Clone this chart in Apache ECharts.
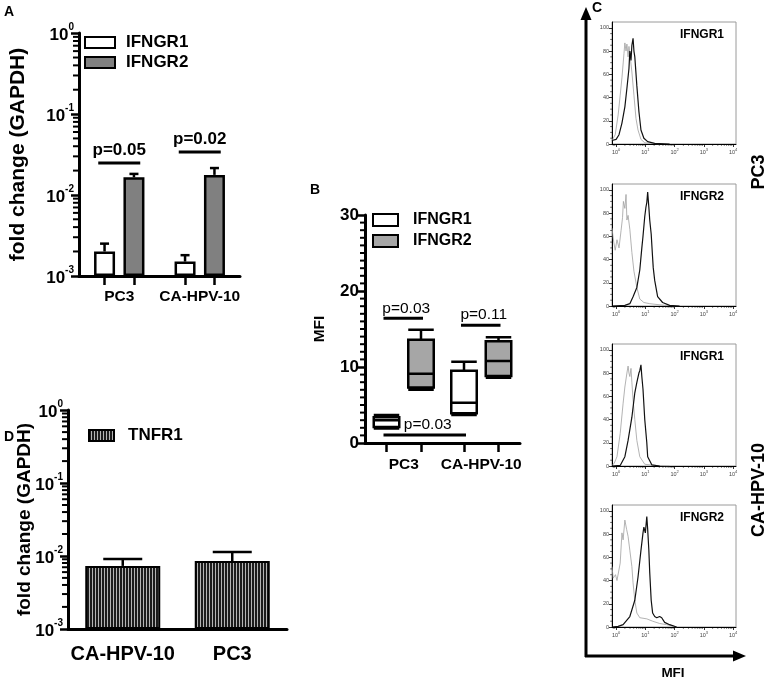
<!DOCTYPE html>
<html>
<head>
    <meta charset="UTF-8">
    <title>IFNGR1 / IFNGR2 / TNFR1</title>
    <style>
        body { margin: 0; background: #fff; }
        #main { width: 767px; height: 679px; }
    </style>
</head>
<body>
<div id="main"></div>
<script src="https://cdn.jsdelivr.net/npm/echarts@6.0.0/dist/echarts.min.js"></script>
<script>
    var FONT = '"Liberation Sans", Arial, sans-serif';

    // ---- A: qPCR, fold change (GAPDH), log scale
    var catsA = ['PC3', 'CA-HPV-10'];
    var ifngr1A = [0.0020, 0.0015];
    var ifngr1AErr = [0.0025, 0.0018];
    var ifngr2A = [0.0165, 0.0177];
    var ifngr2AErr = [0.0182, 0.0215];
    var pA = [[0, 0.0248, 'p=0.05'], [1, 0.034, 'p=0.02']];
    var logTicks = [0.001, 0.01, 0.1, 1];

    // ---- B: MFI box plots [min, q1, median, q3, max]
    var catsB = ['PC3', 'CA-HPV-10'];
    var ifngr1B = [[1.9, 2.1, 3.0, 3.4, 3.7], [3.7, 3.9, 5.3, 9.5, 10.7]];
    var ifngr2B = [[7.0, 7.3, 9.1, 13.6, 14.9], [8.6, 8.8, 10.8, 13.4, 13.9]];
    // [from category, from box, to category, to box, height, text]
    var pB = [[0, 0, 0, 1, 16.4, 'p=0.03'], [1, 0, 1, 1, 15.5, 'p=0.11'], [0, 0, 1, 0, 1.05, 'p=0.03']];

    // ---- D: TNFR1
    var catsD = ['CA-HPV-10', 'PC3'];
    var tnfr1D = [0.0073, 0.0085];
    var tnfr1DErr = [0.0091, 0.0113];

    // ---- C: flow histograms [log10 MFI, % of max]
    var c1Ctrl = [[-0.14, 3], [-0.03, 8], [0.07, 25], [0.14, 42], [0.2, 57], [0.27, 78], [0.3, 87], [0.34, 80], [0.37, 86], [0.41, 75], [0.44, 84], [0.47, 78], [0.54, 62], [0.61, 42], [0.68, 22], [0.75, 12], [0.85, 4], [0.98, 1], [1.5, 0]];
    var c1Stain = [[-0.14, 3], [0, 4], [0.1, 8], [0.2, 18], [0.3, 32], [0.37, 48], [0.44, 65], [0.47, 80], [0.51, 72], [0.54, 85], [0.58, 91], [0.61, 80], [0.64, 75], [0.71, 50], [0.78, 28], [0.85, 12], [0.95, 5], [1.08, 2], [1.32, 0.5], [1.83, 0]];
    var c2Ctrl = [[-0.14, 67], [-0.08, 55], [-0.03, 48], [0.03, 57], [0.1, 50], [0.17, 65], [0.22, 76], [0.25, 90], [0.3, 84], [0.34, 96], [0.37, 74], [0.41, 78], [0.47, 66], [0.54, 46], [0.61, 30], [0.71, 16], [0.81, 6], [0.95, 3], [1.15, 2], [1.5, 1], [2, 0]];
    var c2Stain = [[-0.14, 0], [0.3, 0.5], [0.47, 2], [0.58, 8], [0.71, 16], [0.81, 31], [0.88, 50], [0.92, 60], [0.98, 77], [1.02, 85], [1.05, 89], [1.08, 98], [1.12, 85], [1.15, 74], [1.2, 62], [1.24, 45], [1.27, 33], [1.32, 22], [1.42, 8], [1.59, 3], [1.83, 0.5], [2.17, 0]];
    var c3Ctrl = [[-0.14, 0.5], [-0.07, 2], [0.03, 8], [0.14, 28], [0.24, 54], [0.3, 68], [0.37, 80], [0.41, 86], [0.44, 80], [0.47, 77], [0.51, 84], [0.54, 72], [0.58, 57], [0.64, 40], [0.71, 22], [0.81, 8], [0.98, 1.5], [1.32, 0.5], [1.83, 0]];
    var c3Stain = [[-0.14, 0], [0.14, 0.5], [0.3, 8], [0.41, 22], [0.54, 42], [0.64, 63], [0.71, 72], [0.78, 80], [0.81, 82], [0.85, 87], [0.88, 77], [0.92, 66], [0.98, 40], [1.05, 20], [1.08, 8], [1.22, 1], [1.49, 0]];
    var c4Ctrl = [[-0.14, 52], [-0.1, 42], [-0.02, 45], [0.03, 40], [0.14, 55], [0.2, 81], [0.24, 75], [0.3, 92], [0.36, 84], [0.41, 78], [0.47, 66], [0.54, 52], [0.58, 38], [0.64, 23], [0.71, 12], [0.81, 8], [1.05, 7], [1.25, 5], [1.49, 3], [1.73, 2], [2.07, 0]];
    var c4Stain = [[-0.14, 0], [0.07, 0.5], [0.24, 2], [0.47, 9], [0.64, 23], [0.75, 43], [0.85, 66], [0.92, 81], [0.95, 86], [1.0, 81], [1.05, 95], [1.08, 84], [1.12, 66], [1.15, 47], [1.2, 23], [1.25, 12], [1.32, 9], [1.39, 8], [1.49, 9], [1.56, 8], [1.66, 4], [1.83, 2], [2.07, 0]];
    var histNames = ['IFNGR1', 'IFNGR2', 'IFNGR1', 'IFNGR2'];
    var histCtrl = [c1Ctrl, c2Ctrl, c3Ctrl, c4Ctrl];
    var histStain = [c1Stain, c2Stain, c3Stain, c4Stain];
    var histYTicks = [0, 20, 40, 60, 80, 100];
    var histXTicks = [0, 1, 2, 3, 4];

    // layout
    var gridA = {left: 79, top: 33, width: 161, height: 243};
    var gridB = {left: 365, top: 215, width: 155, height: 228};
    var gridD = {left: 68, top: 410, width: 219, height: 219};
    var histTops = [22, 184, 344, 505];
    var histLeft = 612, histW = 124, histH = 122;

    var barWA = 21, barGapA = 0.4;
    var offA = barWA * (1 + barGapA) / 2;
    var bandA = gridA.width / catsA.length;
    // boxplot side-by-side offset (same rule as echarts boxplot layout)
    var bandB = gridB.width / catsB.length;
    var availB = bandB * 0.8 - 2;
    var gapB = availB / 2 * 0.3;
    var offB = ((availB - gapB) / 2 + gapB) / 2;

    // minor tick positions
    var minorLog = [];
    for (var e = -3; e < 0; e++) {
        for (var k = 2; k <= 9; k++) minorLog.push(+(k * Math.pow(10, e)).toPrecision(3));
    }
    var minorB = [];
    for (var b = 1; b < 30; b++) { if (b % 10) minorB.push(b); }
    var histXMinor = [];
    for (var d = -1; d < 5; d++) {
        for (var m = 2; m <= 9; m++) {
            var v = d + Math.log(m) / Math.LN10;
            if (v > -0.14 && v < 4.1) histXMinor.push(v);
        }
    }
    var histYMinor = [];
    for (var t = 5; t < 105; t += 5) { if (t % 20) histYMinor.push(t); }

    function powerLabel(v) {
        return '{b|10}{s|' + Math.round(Math.log(v) / Math.LN10) + '}';
    }
    var bigRich = {
        b: {fontSize: 17, fontWeight: 'bold', fontFamily: FONT, color: '#000', lineHeight: 22, verticalAlign: 'bottom'},
        s: {fontSize: 10, fontWeight: 'bold', fontFamily: FONT, color: '#000', lineHeight: 12, verticalAlign: 'top'}
    };
    var smallRich = {
        b: {fontSize: 5.5, fontFamily: FONT, color: '#444', lineHeight: 7, verticalAlign: 'bottom'},
        s: {fontSize: 4, fontFamily: FONT, color: '#444', lineHeight: 4, verticalAlign: 'top'}
    };

    function bare(o) {
        var base = {axisLine: {show: false, onZero: false}, axisTick: {show: false}, axisLabel: {show: false}, splitLine: {show: false}};
        for (var k in o) base[k] = o[k];
        return base;
    }
    function blackLine(w) { return {show: true, onZero: false, lineStyle: {color: '#000', width: w}}; }
    function catLabel(size, margin) {
        return {show: true, interval: 0, hideOverlap: false, margin: margin, fontSize: size,
            fontWeight: 'bold', fontFamily: FONT, color: '#000'};
    }

    var grids = [gridA, gridB, gridD];
    var xAxes = [], yAxes = [], series = [];
    // [axis finder, values, 'x' | 'y', pixel edge, length, width] -> drawn after layout
    var minorSets = [];

    // ---------- A axes (x 0,1 / y 0)
    xAxes.push(bare({type: 'category', gridIndex: 0, data: catsA, axisLine: blackLine(3), axisLabel: catLabel(15.5, 13)}));
    xAxes.push(bare({type: 'value', gridIndex: 0, min: 0, max: 2, position: 'bottom',
        axisTick: {show: true, length: 9, lineStyle: {color: '#000', width: 2.5},
            customValues: [0.5 - offA / bandA, 0.5 + offA / bandA, 1.5 - offA / bandA, 1.5 + offA / bandA]}}));
    yAxes.push(bare({type: 'log', gridIndex: 0, position: 'left', min: 0.000995, max: 1.005, startValue: 0.000995,
        axisLine: blackLine(3),
        axisTick: {show: true, length: 8, lineStyle: {color: '#000', width: 2.5}, customValues: logTicks},
        axisLabel: {show: true, margin: 5, customValues: logTicks, formatter: powerLabel, rich: bigRich},
        name: 'fold change (GAPDH)', nameLocation: 'middle', nameGap: 50, nameMoveOverlap: false,
        nameTextStyle: {fontSize: 21, fontWeight: 'bold', fontFamily: FONT, color: '#000'}}));

    // ---------- B axes (x 2,3 / y 1)
    xAxes.push(bare({type: 'category', gridIndex: 1, data: catsB, axisLine: blackLine(3), axisLabel: catLabel(15.5, 14)}));
    xAxes.push(bare({type: 'value', gridIndex: 1, min: 0, max: 2, position: 'bottom',
        axisTick: {show: true, length: 9, lineStyle: {color: '#000', width: 2.5},
            customValues: [0.5 - offB / bandB, 0.5 + offB / bandB, 1.5 - offB / bandB, 1.5 + offB / bandB]}}));
    yAxes.push(bare({type: 'value', gridIndex: 1, position: 'left', min: 0, max: 30, interval: 10,
        axisLine: blackLine(3),
        axisTick: {show: true, length: 7, lineStyle: {color: '#000', width: 2.5}},
        axisLabel: {show: true, margin: 6, fontSize: 17, fontWeight: 'bold', fontFamily: FONT, color: '#000'},
        name: 'MFI', nameLocation: 'middle', nameGap: 37, nameMoveOverlap: false,
        nameTextStyle: {fontSize: 15.5, fontWeight: 'bold', fontFamily: FONT, color: '#000'}}));

    // ---------- D axes (x 4 / y 2)
    xAxes.push(bare({type: 'category', gridIndex: 2, data: catsD, axisLine: blackLine(3), axisLabel: catLabel(20, 15)}));
    yAxes.push(bare({type: 'log', gridIndex: 2, position: 'left', min: 0.000995, max: 1.005, startValue: 0.000995,
        axisLine: blackLine(3),
        axisTick: {show: true, length: 8, lineStyle: {color: '#000', width: 2.5}, customValues: logTicks},
        axisLabel: {show: true, margin: 5, customValues: logTicks, formatter: powerLabel, rich: bigRich},
        name: 'fold change (GAPDH)', nameLocation: 'middle', nameGap: 34, nameMoveOverlap: false,
        nameTextStyle: {fontSize: 19, fontWeight: 'bold', fontFamily: FONT, color: '#000'}}));

    minorSets.push([{yAxisIndex: 0}, minorLog, 'y', gridA.left - 1, 5, 2]);
    minorSets.push([{yAxisIndex: 1}, minorB, 'y', gridB.left - 1, 4, 2]);
    minorSets.push([{yAxisIndex: 2}, minorLog, 'y', gridD.left - 1, 5, 2]);

    // ---------- C: 4 histograms (x 5.. / y 3..)
    histTops.forEach(function (top, i) {
        var gi = grids.length;
        grids.push({left: histLeft, top: top, width: histW, height: histH, show: true,
            borderColor: '#9a9a9a', borderWidth: 1, backgroundColor: 'transparent'});
        var xi = xAxes.length, yi = yAxes.length;
        xAxes.push(bare({type: 'value', gridIndex: gi, min: -0.14, max: 4.1, position: 'bottom',
            axisLine: blackLine(1),
            axisTick: {show: true, length: 3, lineStyle: {color: '#000', width: 0.8}, customValues: histXTicks},
            axisLabel: {show: true, margin: 4, customValues: histXTicks, rich: smallRich,
                formatter: function (v) { return '{b|10}{s|' + v + '}'; }}}));
        yAxes.push(bare({type: 'value', gridIndex: gi, min: 0, max: 105, position: 'left',
            axisLine: blackLine(1),
            axisTick: {show: true, length: 3, lineStyle: {color: '#000', width: 0.8}, customValues: histYTicks},
            axisLabel: {show: true, margin: 3, customValues: histYTicks, fontSize: 5.5, fontFamily: FONT, color: '#444'}}));

        minorSets.push([{xAxisIndex: xi}, histXMinor, 'x', top + histH, 1.8, 0.6]);
        minorSets.push([{yAxisIndex: yi}, histYMinor, 'y', histLeft, 1.8, 0.6]);
        series.push({type: 'line', xAxisIndex: xi, yAxisIndex: yi, data: histCtrl[i], symbol: 'none',
            lineStyle: {color: '#a0a0a0', width: 0.8}, silent: true});
        series.push({type: 'line', xAxisIndex: xi, yAxisIndex: yi, data: histStain[i], symbol: 'none',
            lineStyle: {color: '#111', width: 1.2}, silent: true});
    });

    // ---------- error bars (upper half only)
    function errorBars(xIdx, yIdx, vals, errs, offsetPx, capW) {
        return {
            type: 'custom', xAxisIndex: xIdx, yAxisIndex: yIdx, z: 5, silent: true, clip: false,
            data: vals.map(function (v, i) { return [i, v, errs[i]]; }),
            renderItem: function (params, api) {
                var top = api.coord([api.value(0), api.value(1)]);
                var end = api.coord([api.value(0), api.value(2)]);
                var x = top[0] + offsetPx;
                var st = {stroke: '#000', lineWidth: 2.5};
                return {type: 'group', children: [
                    {type: 'line', shape: {x1: x, y1: top[1], x2: x, y2: end[1]}, style: st},
                    {type: 'line', shape: {x1: x - capW / 2, y1: end[1], x2: x + capW / 2, y2: end[1]}, style: st}
                ]};
            }
        };
    }

    // ---------- A series
    series.push({type: 'bar', name: 'IFNGR1', xAxisIndex: 0, yAxisIndex: 0, data: ifngr1A,
        barWidth: barWA, barGap: (barGapA * 100) + '%',
        itemStyle: {color: '#fff', borderColor: '#000', borderWidth: 2.5}, silent: true});
    series.push({type: 'bar', name: 'IFNGR2', xAxisIndex: 0, yAxisIndex: 0, data: ifngr2A,
        barWidth: barWA, barGap: (barGapA * 100) + '%',
        itemStyle: {color: '#808080', borderColor: '#000', borderWidth: 2.5}, silent: true});
    series.push(errorBars(0, 0, ifngr1A, ifngr1AErr, -offA, 9));
    series.push(errorBars(0, 0, ifngr2A, ifngr2AErr, offA, 9));
    series.push({
        type: 'custom', xAxisIndex: 0, yAxisIndex: 0, z: 6, silent: true, clip: false,
        data: pA.map(function (p) { return [p[0], p[1]]; }),
        renderItem: function (params, api) {
            var c = api.coord([api.value(0), api.value(1)]);
            var half = offA + barWA * 0.3;
            return {type: 'group', children: [
                {type: 'line', shape: {x1: c[0] - half, y1: c[1], x2: c[0] + half, y2: c[1]},
                    style: {stroke: '#000', lineWidth: 3}},
                {type: 'text', style: {x: c[0], y: c[1] - 13, text: pA[params.dataIndex][2], align: 'center',
                    verticalAlign: 'middle', font: 'bold 17px ' + FONT, fill: '#000'}}
            ]};
        }
    });

    // ---------- B series
    series.push({type: 'boxplot', name: 'IFNGR1', xAxisIndex: 2, yAxisIndex: 1, data: ifngr1B,
        itemStyle: {color: '#fff', borderColor: '#000', borderWidth: 2.5}, silent: true});
    series.push({type: 'boxplot', name: 'IFNGR2', xAxisIndex: 2, yAxisIndex: 1, data: ifngr2B,
        itemStyle: {color: '#a6a6a6', borderColor: '#000', borderWidth: 2.5}, silent: true});
    series.push({
        type: 'custom', xAxisIndex: 2, yAxisIndex: 1, z: 6, silent: true, clip: false,
        data: pB.map(function (p) { return [p[0], p[4]]; }),
        renderItem: function (params, api) {
            var p = pB[params.dataIndex];
            var a = api.coord([p[0], p[4]]);
            var b = api.coord([p[2], p[4]]);
            var x1 = a[0] + (p[1] ? offB : -offB) - 3;
            var x2 = b[0] + (p[3] ? offB : -offB) + 2;
            return {type: 'group', children: [
                {type: 'line', shape: {x1: x1, y1: a[1], x2: x2, y2: a[1]}, style: {stroke: '#000', lineWidth: 3}},
                {type: 'text', style: {x: (x1 + x2) / 2 + 3, y: a[1] - 10, text: p[5], align: 'center',
                    verticalAlign: 'middle', font: '15.5px ' + FONT, fill: '#000'}}
            ]};
        }
    });

    // ---------- D series
    var stripe = document.createElement('canvas');
    stripe.width = 3; stripe.height = 4;
    var sc = stripe.getContext('2d');
    sc.fillStyle = '#1c1c1c'; sc.fillRect(0, 0, 3, 4);
    sc.fillStyle = '#b4b4b4'; sc.fillRect(2, 0, 1, 4);
    series.push({type: 'bar', name: 'TNFR1', xAxisIndex: 4, yAxisIndex: 2, data: tnfr1D, barWidth: 75,
        itemStyle: {color: {image: stripe, repeat: 'repeat'}, borderColor: '#000', borderWidth: 2}, silent: true});
    series.push(errorBars(4, 2, tnfr1D, tnfr1DErr, 0, 39));

    function label(text, x, y, size, rot) {
        return {type: 'text', x: x, y: y, rotation: rot || 0, silent: true,
            style: {text: text, align: 'center', verticalAlign: 'middle', font: 'bold ' + size + 'px ' + FONT, fill: '#000'}};
    }
    var graphics = [
        label('A', 9, 12, 14), label('B', 315, 190, 14), label('C', 597, 8, 14), label('D', 9, 437, 14),
        label('PC3', 759, 172, 18, Math.PI / 2), label('CA-HPV-10', 759, 490, 18, Math.PI / 2),
        label('MFI', 673, 673, 13.5),
        {type: 'line', silent: true, shape: {x1: 586, y1: 657, x2: 586, y2: 18}, style: {stroke: '#000', lineWidth: 3}},
        {type: 'polygon', silent: true, shape: {points: [[580.5, 20], [591.5, 20], [586, 7]]}, style: {fill: '#000'}},
        {type: 'line', silent: true, shape: {x1: 585, y1: 656, x2: 735, y2: 656}, style: {stroke: '#000', lineWidth: 3}},
        {type: 'polygon', silent: true, shape: {points: [[733, 650.5], [733, 661.5], [746, 656]]}, style: {fill: '#000'}}
    ];
    histTops.forEach(function (top, i) {
        graphics.push(label(histNames[i], 702, top + 13, 12));
    });

    var chart = echarts.init(document.getElementById('main'));
    chart.setOption({
        animation: false,
        backgroundColor: '#fff',
        grid: grids,
        xAxis: xAxes,
        yAxis: yAxes,
        legend: [
            {left: 84, top: 34, orient: 'vertical', padding: 0, itemGap: 3, itemWidth: 30, itemHeight: 11,
                icon: 'rect', selectedMode: false, data: ['IFNGR1', 'IFNGR2'],
                textStyle: {fontSize: 17, fontWeight: 'bold', fontFamily: FONT, color: '#000', padding: [0, 0, 0, 6]}},
            {left: 372, top: 212, orient: 'vertical', padding: 0, itemGap: 5, itemWidth: 25, itemHeight: 12,
                icon: 'rect', selectedMode: false,
                data: [{name: 'IFNGR1'}, {name: 'IFNGR2', itemStyle: {color: '#a6a6a6'}}],
                textStyle: {fontSize: 16, fontWeight: 'bold', fontFamily: FONT, color: '#000', padding: [0, 0, 0, 10]}},
            {left: 88, top: 427, orient: 'vertical', padding: 0, itemWidth: 25, itemHeight: 11,
                icon: 'rect', selectedMode: false, data: ['TNFR1'],
                textStyle: {fontSize: 17, fontWeight: 'bold', fontFamily: FONT, color: '#000', padding: [0, 0, 0, 9]}}
        ],
        series: series,
        graphic: graphics
    });

    // minor ticks: positions come from the axes' own scales once the layout exists
    minorSets.forEach(function (ms) {
        ms[1].forEach(function (val) {
            var px = chart.convertToPixel(ms[0], val);
            if (px == null || isNaN(px)) return;
            var shape = ms[2] === 'y'
                ? {x1: ms[3] - ms[4], y1: px, x2: ms[3], y2: px}
                : {x1: px, y1: ms[3], x2: px, y2: ms[3] + ms[4]};
            graphics.push({type: 'line', silent: true, z: 10, shape: shape,
                style: {stroke: '#000', lineWidth: ms[5]}});
        });
    });
    chart.setOption({graphic: graphics});
</script>
</body>
</html>
